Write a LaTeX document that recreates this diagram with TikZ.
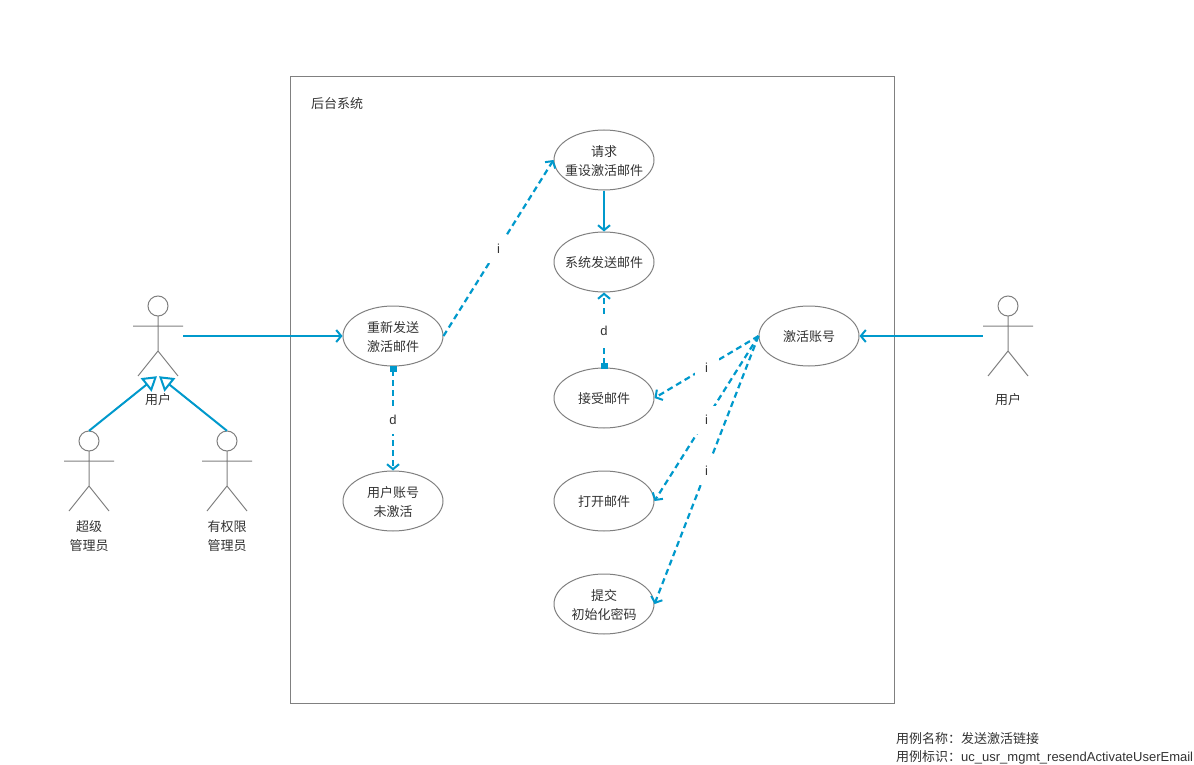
\documentclass[tikz,border=0pt]{standalone}
\usepackage{fontspec}
\setmainfont{Noto Sans CJK SC}
\newfontfamily\latfont{Liberation Sans}
\usetikzlibrary{shapes.geometric,arrows.meta}
\definecolor{linkblue}{HTML}{0099CC}
\definecolor{shapegray}{HTML}{808080}
\definecolor{textdark}{HTML}{333333}
\tikzset{
  base/.style={font=\fontsize{13}{19}\selectfont, text=textdark},
  usecase/.style={shape=ellipse, draw=shapegray, line width=1pt, fill=white, inner sep=0pt,
    minimum width=100pt, minimum height=60pt, label={[base, align=center, inner sep=0pt, yshift=-1pt]center:{#1}}},
  plain/.style={base, align=center, inner sep=0pt},
  edgelabel/.style={base, fill=white, inner sep=0pt, minimum width=24pt, minimum height=28pt, yshift=-1pt, font=\fontsize{13}{19}\selectfont\latfont},
  link/.style={draw=linkblue, line width=2pt},
  solidarrow/.style={link, -{Straight Barb[length=5pt,width=12pt,line width=2pt]}},
  deparrow/.style={link, line width=2.2pt, dash pattern=on 6pt off 4pt, -{Straight Barb[length=5pt,width=12pt,line width=2pt]}},
  reqarrow/.style={link, line width=2.2pt, dash pattern=on 6pt off 4pt, {Square[length=6pt,width=7pt,sep=-1pt]}-{Straight Barb[length=5pt,width=12pt,line width=2pt]}},
  genarrow/.style={link, -{Triangle[open,length=14pt,width=17pt,fill=white,line width=2pt]}},
  actor/.pic={
    \draw[draw=shapegray, line width=1pt] (0,10) circle (10);
    \draw[draw=shapegray, line width=1pt] (0,20) -- (0,55) (-25,30) -- (25,30) (-20,80) -- (0,55) -- (20,80);
    \node[minimum width=50pt, minimum height=80pt, inner sep=0pt] (-box) at (0,40) {};
  }
}
\begin{document}
\begin{tikzpicture}[x=1pt,y=-1pt]
\useasboundingbox (0,0) rectangle (1194,765);
\fill[white] (0,0) rectangle (1194,765);
\node[draw=shapegray, line width=1pt, minimum width=604pt, minimum height=627pt, inner sep=0pt] (sys) at (592.5,390) {};
\node[plain, anchor=west] (systitle) at (311,104) {后台系统};

\node[usecase={请求\\重设激活邮件}] (req) at (604,160) {};
\node[usecase={系统发送邮件}] (send) at (604,262) {};
\node[usecase={接受邮件}] (recv) at (604,398) {};
\node[usecase={打开邮件}] (open) at (604,501) {};
\node[usecase={提交\\初始化密码}] (submit) at (604,604) {};
\node[usecase={重新发送\\激活邮件}] (resend) at (393,336) {};
\node[usecase={用户账号\\未激活}] (inactive) at (393,501) {};
\node[usecase={激活账号}] (activate) at (809,336) {};

\pic (user) at (158,296) {actor};
\pic (super) at (89,431) {actor};
\pic (admin) at (227,431) {actor};
\pic (user2) at (1008,296) {actor};

\node[plain] (userlabel) at (158,400) {用户};
\node[plain] (superlabel) at (89,536) {超级\\管理员};
\node[plain] (adminlabel) at (227,536) {有权限\\管理员};
\node[plain] (user2label) at (1008,400) {用户};

\draw[solidarrow] (user-box.east) -- (resend.west);
\draw[solidarrow] (user2-box.west) -- (activate.east);
\draw[solidarrow] (req.south) -- (send.north);
\draw[genarrow] (super-box.north) -- ([xshift=-1pt]user-box.south);
\draw[genarrow] (admin-box.north) -- ([xshift=1pt]user-box.south);

\draw[deparrow] (resend.east) -- node[edgelabel] {i} (req.west);
\draw[reqarrow] (resend.south) -- node[edgelabel] {d} (inactive.north);
\draw[reqarrow] (recv.north) -- node[edgelabel] {d} (send.south);
\draw[deparrow] (activate.west) -- node[edgelabel] {i} (recv.east);
\draw[deparrow] (activate.west) -- node[edgelabel] {i} (open.east);
\draw[deparrow] (activate.west) -- node[edgelabel] {i} (submit.east);

\node[base, anchor=west, inner sep=0pt] (casename) at (896,739) {用例名称：发送激活链接};
\node[base, anchor=west, inner sep=0pt] (caseid) at (896,757) {用例标识：{\latfont uc\_usr\_mgmt\_resendActivateUserEmail}};
\end{tikzpicture}
\end{document}
